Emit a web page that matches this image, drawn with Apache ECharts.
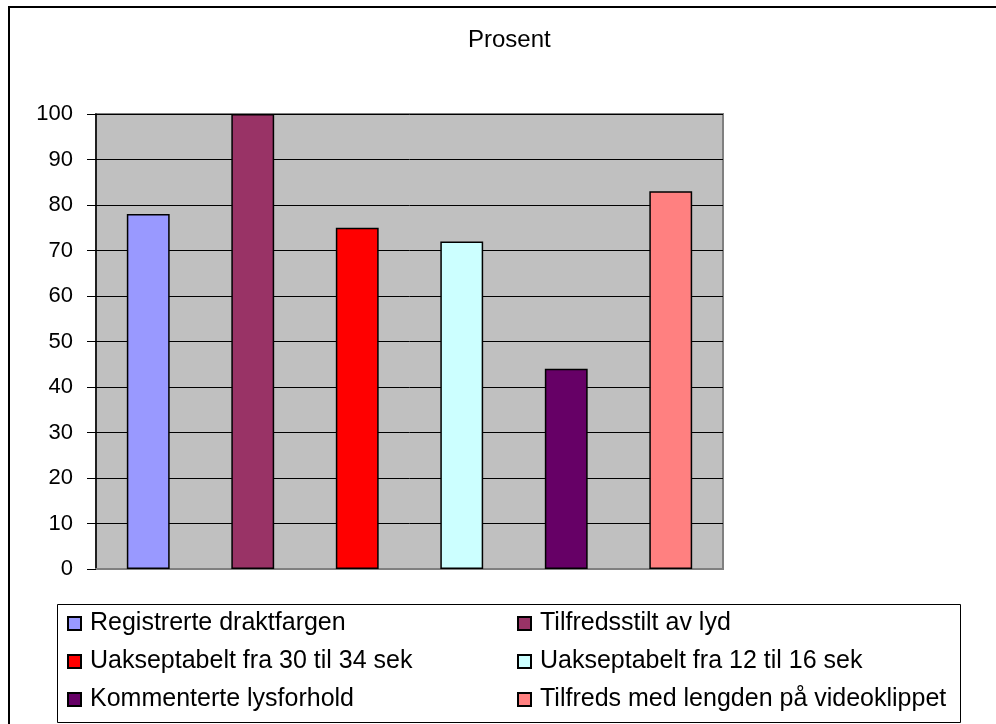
<!DOCTYPE html>
<html>
<head>
<meta charset="utf-8">
<script src="https://cdn.jsdelivr.net/npm/echarts@6/dist/echarts.min.js"></script>
<style>
  html, body { margin: 0; padding: 0; background: #fff; }
  #chart { width: 996px; height: 724px; }
</style>
</head>
<body>
<div id="chart"></div>
<script>
// Survey answers, percent per statement
const seriesNames = [
  'Registrerte draktfargen',
  'Tilfredsstilt av lyd',
  'Uakseptabelt fra 30 til 34 sek',
  'Uakseptabelt fra 12 til 16 sek',
  'Kommenterte lysforhold',
  'Tilfreds med lengden på videoklippet'
];
const values = [78, 100, 75, 72, 44, 83];
const colors = ['#9999FF', '#993366', '#FF0000', '#CCFFFF', '#660066', '#FF8080'];
const categories = ['1', '2', '3', '4', '5', '6'];
const yMin = 0, yMax = 100, yStep = 10;

const FONT = '"Liberation Sans", Arial, sans-serif';

// One series per statement, all in one stack so each bar fills its own slot
const series = seriesNames.map((name, i) => ({
  name: name,
  type: 'bar',
  stack: 'all',
  barWidth: '41%',
  data: categories.map((c, j) => (j === i ? values[i] : null)),
  itemStyle: { color: colors[i], borderColor: '#000', borderWidth: 1.5 }
}));

const legendStyle = {
  orient: 'vertical',
  icon: 'rect',
  itemWidth: 13,
  itemHeight: 13,
  itemGap: 13,
  padding: 0,
  textStyle: { fontFamily: FONT, fontSize: 25, color: '#000', lineHeight: 25, padding: [0, 0, 0, 4] },
  selectedMode: false
};

const chart = echarts.init(document.getElementById('chart'), null, { renderer: 'canvas' });
chart.setOption({
  animation: false,
  backgroundColor: '#fff',
  title: {
    text: 'Prosent',
    left: 468,
    top: 28,
    padding: 0,
    textStyle: { fontFamily: FONT, fontSize: 24, fontWeight: 'normal', color: '#000' }
  },
  grid: {
    left: 96, right: 273, top: 114, bottom: 155,
    show: true,
    backgroundColor: '#C0C0C0',
    borderColor: '#808080',
    borderWidth: 2
  },
  xAxis: {
    type: 'category',
    data: categories,
    axisLine: { lineStyle: { color: '#808080', width: 2 } },
    axisTick: { show: false },
    axisLabel: { show: false }
  },
  yAxis: {
    type: 'value',
    min: yMin, max: yMax, interval: yStep,
    axisLine: { show: true, lineStyle: { color: '#000', width: 1.5 } },
    axisTick: { show: true, length: 9, lineStyle: { color: '#000', width: 1 } },
    axisLabel: { margin: 23, fontFamily: FONT, fontSize: 22, color: '#000' },
    splitLine: { show: true, lineStyle: { color: '#000', width: 1 } }
  },
  legend: [
    Object.assign({}, legendStyle, { left: 67, top: 611, data: [seriesNames[0], seriesNames[2], seriesNames[4]] }),
    Object.assign({}, legendStyle, { left: 517, top: 611, data: [seriesNames[1], seriesNames[3], seriesNames[5]] })
  ],
  graphic: [
    // outer chart frame
    { type: 'rect', silent: true, shape: { x: 9, y: 7, width: 1000, height: 730 },
      style: { fill: null, stroke: '#000', lineWidth: 2 } },
    // legend frame
    { type: 'rect', silent: true, shape: { x: 57.5, y: 604.5, width: 903, height: 118 },
      style: { fill: null, stroke: '#000', lineWidth: 1 } }
  ],
  series: series
});
</script>
</body>
</html>
